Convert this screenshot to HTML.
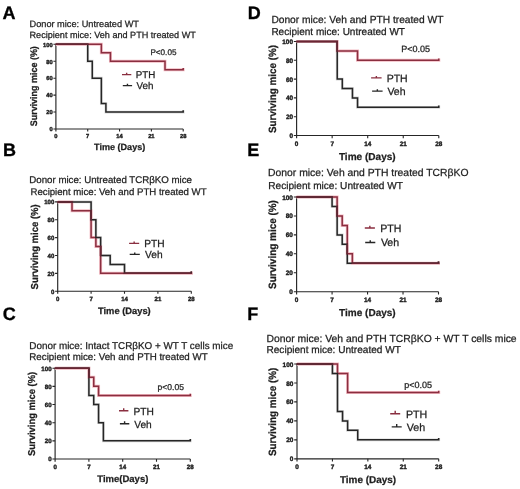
<!DOCTYPE html>
<html><head><meta charset="utf-8"><style>
html,body{margin:0;padding:0;background:#fff;}
svg{display:block;filter:blur(0.3px);}
text{font-family:"Liberation Sans", sans-serif;fill:#1e1e1e;stroke:#1e1e1e;stroke-width:0.25px;text-rendering:geometricPrecision;}
.tk{stroke-width:0.4px;}
.lt{fill:#000;stroke:#000;stroke-width:0.3px;}
</style></head><body>
<svg width="520" height="489" viewBox="0 0 520 489">
<rect width="520" height="489" fill="#fff"/>
<text x="2.50" y="18.60" font-size="18.00" font-weight="700" text-anchor="start" class="lt">A</text>
<text x="29.51" y="27.40" font-size="9.21" font-weight="400" text-anchor="start" >Donor mice: Untreated WT</text>
<text x="29.52" y="37.50" font-size="9.10" font-weight="400" text-anchor="start" >Recipient mice: Veh and PTH treated WT</text>
<path d="M55.90 44.30 V131.50 M53.40 129.00 H183.20" stroke="#262626" stroke-width="1.15" fill="none"/>
<path d="M53.40 112.06 H55.90 M53.40 95.12 H55.90 M53.40 78.18 H55.90 M53.40 61.24 H55.90 M53.40 44.30 H55.90 M87.72 129.00 V131.50 M119.55 129.00 V131.50 M151.38 129.00 V131.50 M183.20 129.00 V131.50" stroke="#262626" stroke-width="1.1" fill="none"/>
<text x="52.63" y="131.31" font-size="5.75" font-weight="700" text-anchor="end" class="tk">0</text>
<text x="52.63" y="114.37" font-size="5.75" font-weight="700" text-anchor="end" class="tk">20</text>
<text x="52.63" y="97.43" font-size="5.75" font-weight="700" text-anchor="end" class="tk">40</text>
<text x="52.63" y="80.49" font-size="5.75" font-weight="700" text-anchor="end" class="tk">60</text>
<text x="52.63" y="63.55" font-size="5.75" font-weight="700" text-anchor="end" class="tk">80</text>
<text x="52.63" y="46.61" font-size="5.75" font-weight="700" text-anchor="end" class="tk">100</text>
<text x="55.90" y="137.81" font-size="5.75" font-weight="700" text-anchor="middle" class="tk">0</text>
<text x="87.72" y="137.81" font-size="5.75" font-weight="700" text-anchor="middle" class="tk">7</text>
<text x="119.55" y="137.81" font-size="5.75" font-weight="700" text-anchor="middle" class="tk">14</text>
<text x="151.38" y="137.81" font-size="5.75" font-weight="700" text-anchor="middle" class="tk">21</text>
<text x="183.20" y="137.81" font-size="5.75" font-weight="700" text-anchor="middle" class="tk">28</text>
<text x="0" y="0" font-size="8.96" font-weight="700" transform="translate(36.90,126.27) rotate(-90) scale(1,1.06)">Surviving mice (%)</text>
<text x="94.11" y="150.30" font-size="9.05" font-weight="700" text-anchor="start" >Time (Days)</text>
<path d="M55.90 44.30 H87.72 V61.24 H92.27 V78.18 H101.36 V103.59 H105.91 V112.06 H183.20 v-1.8" stroke="#d8d8d8" stroke-width="2.8" fill="none"/>
<path d="M55.90 44.30 H101.36 V52.77 H110.46 V61.24 H165.01 V69.71 H183.20 v-1.8" stroke="#f4bcc4" stroke-width="3.0" fill="none"/>
<path d="M55.90 44.30 H101.36 V52.77 H110.46 V61.24 H165.01 V69.71 H183.20 v-1.8" stroke="#8a2f40" stroke-width="1.5" fill="none"/>
<path d="M55.90 44.30 H87.72 V61.24 H92.27 V78.18 H101.36 V103.59 H105.91 V112.06 H183.20 v-1.8" stroke="#262626" stroke-width="1.5" fill="none"/>
<path d="M55.15 44.30 H88.47" stroke="#6a2634" stroke-width="1.5" fill="none"/>
<path d="M122.00 74.60 H131.30 M126.65 74.60 v-1.80" stroke="#8a2f40" stroke-width="1.4" fill="none"/>
<text x="135.82" y="78.30" font-size="9.80" font-weight="400" text-anchor="start" >PTH</text>
<path d="M122.80 85.60 H132.10 M127.45 85.60 v-1.80" stroke="#262626" stroke-width="1.4" fill="none"/>
<text x="136.50" y="88.90" font-size="9.80" font-weight="400" text-anchor="start" >Veh</text>
<text x="150.45" y="55.00" font-size="8.14" font-weight="400" text-anchor="start" >P&lt;0.05</text>
<text x="2.90" y="155.75" font-size="18.00" font-weight="700" text-anchor="start" class="lt">B</text>
<text x="29.32" y="183.00" font-size="9.70" font-weight="400" text-anchor="start" >Donor mice: Untreated TCRβKO mice</text>
<text x="30.53" y="194.80" font-size="9.64" font-weight="400" text-anchor="start" >Recipient mice: Veh and PTH treated WT</text>
<path d="M57.70 201.90 V293.84 M55.06 291.20 H191.30" stroke="#262626" stroke-width="1.15" fill="none"/>
<path d="M55.06 273.34 H57.70 M55.06 255.48 H57.70 M55.06 237.62 H57.70 M55.06 219.76 H57.70 M55.06 201.90 H57.70 M91.10 291.20 V293.84 M124.50 291.20 V293.84 M157.90 291.20 V293.84 M191.30 291.20 V293.84" stroke="#262626" stroke-width="1.1" fill="none"/>
<text x="54.25" y="293.62" font-size="6.06" font-weight="700" text-anchor="end" class="tk">0</text>
<text x="54.25" y="275.76" font-size="6.06" font-weight="700" text-anchor="end" class="tk">20</text>
<text x="54.25" y="257.90" font-size="6.06" font-weight="700" text-anchor="end" class="tk">40</text>
<text x="54.25" y="240.04" font-size="6.06" font-weight="700" text-anchor="end" class="tk">60</text>
<text x="54.25" y="222.18" font-size="6.06" font-weight="700" text-anchor="end" class="tk">80</text>
<text x="54.25" y="204.32" font-size="6.06" font-weight="700" text-anchor="end" class="tk">100</text>
<text x="57.70" y="301.37" font-size="6.06" font-weight="700" text-anchor="middle" class="tk">0</text>
<text x="91.10" y="301.37" font-size="6.06" font-weight="700" text-anchor="middle" class="tk">7</text>
<text x="124.50" y="301.37" font-size="6.06" font-weight="700" text-anchor="middle" class="tk">14</text>
<text x="157.90" y="301.37" font-size="6.06" font-weight="700" text-anchor="middle" class="tk">21</text>
<text x="191.30" y="301.37" font-size="6.06" font-weight="700" text-anchor="middle" class="tk">28</text>
<text x="0" y="0" font-size="9.52" font-weight="700" transform="translate(38.00,289.39) rotate(-90) scale(1,1.06)">Surviving mice (%)</text>
<text x="98.01" y="314.30" font-size="9.34" font-weight="700" text-anchor="start" >Time (Days)</text>
<path d="M57.70 201.90 H91.10 V219.76 H95.87 V237.62 H100.64 V255.48 H110.19 V264.41 H124.50 V273.34 H191.30 v-1.8" stroke="#d8d8d8" stroke-width="2.8" fill="none"/>
<path d="M57.70 201.90 H72.01 V210.83 H91.10 V237.62 H95.87 V246.55 H100.64 V273.34 H191.30 v-1.8" stroke="#f4bcc4" stroke-width="3.0" fill="none"/>
<path d="M57.70 201.90 H72.01 V210.83 H91.10 V237.62 H95.87 V246.55 H100.64 V273.34 H191.30 v-1.8" stroke="#8a2f40" stroke-width="1.5" fill="none"/>
<path d="M57.70 201.90 H91.10 V219.76 H95.87 V237.62 H100.64 V255.48 H110.19 V264.41 H124.50 V273.34 H191.30 v-1.8" stroke="#262626" stroke-width="1.5" fill="none"/>
<path d="M56.95 201.90 H72.76 M123.75 273.34 H192.05 M91.10 210.08 V220.51 M100.64 245.80 V256.23" stroke="#6a2634" stroke-width="1.5" fill="none"/>
<path d="M129.10 243.40 H139.20 M134.15 243.40 v-1.80" stroke="#8a2f40" stroke-width="1.4" fill="none"/>
<text x="144.28" y="246.80" font-size="10.20" font-weight="400" text-anchor="start" >PTH</text>
<path d="M129.70 254.40 H139.80 M134.75 254.40 v-1.80" stroke="#262626" stroke-width="1.4" fill="none"/>
<text x="145.00" y="258.20" font-size="10.20" font-weight="400" text-anchor="start" >Veh</text>
<text x="2.80" y="319.80" font-size="18.00" font-weight="700" text-anchor="start" class="lt">C</text>
<text x="29.31" y="348.60" font-size="9.89" font-weight="400" text-anchor="start" >Donor mice: Intact TCRβKO + WT T cells mice</text>
<text x="29.32" y="359.80" font-size="9.76" font-weight="400" text-anchor="start" >Recipient mice: Veh and PTH treated WT</text>
<path d="M55.10 368.20 V461.68 M52.42 459.00 H190.30" stroke="#262626" stroke-width="1.15" fill="none"/>
<path d="M52.42 440.84 H55.10 M52.42 422.68 H55.10 M52.42 404.52 H55.10 M52.42 386.36 H55.10 M52.42 368.20 H55.10 M88.90 459.00 V461.68 M122.70 459.00 V461.68 M156.50 459.00 V461.68 M190.30 459.00 V461.68" stroke="#262626" stroke-width="1.1" fill="none"/>
<text x="51.59" y="461.46" font-size="6.16" font-weight="700" text-anchor="end" class="tk">0</text>
<text x="51.59" y="443.30" font-size="6.16" font-weight="700" text-anchor="end" class="tk">20</text>
<text x="51.59" y="425.14" font-size="6.16" font-weight="700" text-anchor="end" class="tk">40</text>
<text x="51.59" y="406.98" font-size="6.16" font-weight="700" text-anchor="end" class="tk">60</text>
<text x="51.59" y="388.82" font-size="6.16" font-weight="700" text-anchor="end" class="tk">80</text>
<text x="51.59" y="370.66" font-size="6.16" font-weight="700" text-anchor="end" class="tk">100</text>
<text x="55.10" y="468.96" font-size="6.16" font-weight="700" text-anchor="middle" class="tk">0</text>
<text x="88.90" y="468.96" font-size="6.16" font-weight="700" text-anchor="middle" class="tk">7</text>
<text x="122.70" y="468.96" font-size="6.16" font-weight="700" text-anchor="middle" class="tk">14</text>
<text x="156.50" y="468.96" font-size="6.16" font-weight="700" text-anchor="middle" class="tk">21</text>
<text x="190.30" y="468.96" font-size="6.16" font-weight="700" text-anchor="middle" class="tk">28</text>
<text x="0" y="0" font-size="9.41" font-weight="700" transform="translate(35.00,455.98) rotate(-90) scale(1,1.06)">Surviving mice (%)</text>
<text x="97.30" y="481.70" font-size="9.51" font-weight="700" text-anchor="start" >Time(Days)</text>
<path d="M55.10 368.20 H88.90 V395.44 H93.73 V404.52 H98.56 V422.68 H103.39 V440.84 H190.30 v-1.8" stroke="#d8d8d8" stroke-width="2.8" fill="none"/>
<path d="M55.10 368.20 H88.90 V377.28 H93.73 V386.36 H98.56 V395.44 H190.30 v-1.8" stroke="#f4bcc4" stroke-width="3.0" fill="none"/>
<path d="M55.10 368.20 H88.90 V377.28 H93.73 V386.36 H98.56 V395.44 H190.30 v-1.8" stroke="#8a2f40" stroke-width="1.5" fill="none"/>
<path d="M55.10 368.20 H88.90 V395.44 H93.73 V404.52 H98.56 V422.68 H103.39 V440.84 H190.30 v-1.8" stroke="#262626" stroke-width="1.5" fill="none"/>
<path d="M54.35 368.20 H89.65 M88.90 367.45 V378.03" stroke="#6a2634" stroke-width="1.5" fill="none"/>
<path d="M119.00 410.80 H128.40 M123.70 410.80 v-2.50" stroke="#8a2f40" stroke-width="1.4" fill="none"/>
<text x="133.48" y="414.90" font-size="10.20" font-weight="400" text-anchor="start" >PTH</text>
<path d="M119.90 423.70 H129.30 M124.60 423.70 v-2.50" stroke="#262626" stroke-width="1.4" fill="none"/>
<text x="134.20" y="427.80" font-size="10.20" font-weight="400" text-anchor="start" >Veh</text>
<text x="157.60" y="390.20" font-size="8.55" font-weight="400" text-anchor="start" >p&lt;0.05</text>
<text x="247.80" y="18.70" font-size="18.00" font-weight="700" text-anchor="start" class="lt">D</text>
<text x="271.38" y="23.00" font-size="10.22" font-weight="400" text-anchor="start" >Donor mice: Veh and PTH treated WT</text>
<text x="271.40" y="34.80" font-size="10.02" font-weight="400" text-anchor="start" >Recipient mice: Untreated WT</text>
<path d="M296.60 41.50 V138.27 M293.83 135.50 H438.80" stroke="#262626" stroke-width="1.15" fill="none"/>
<path d="M293.83 116.70 H296.60 M293.83 97.90 H296.60 M293.83 79.10 H296.60 M293.83 60.30 H296.60 M293.83 41.50 H296.60 M332.15 135.50 V138.27 M367.70 135.50 V138.27 M403.25 135.50 V138.27 M438.80 135.50 V138.27" stroke="#262626" stroke-width="1.1" fill="none"/>
<text x="292.97" y="138.03" font-size="6.38" font-weight="700" text-anchor="end" class="tk">0</text>
<text x="292.97" y="119.23" font-size="6.38" font-weight="700" text-anchor="end" class="tk">20</text>
<text x="292.97" y="100.43" font-size="6.38" font-weight="700" text-anchor="end" class="tk">40</text>
<text x="292.97" y="81.63" font-size="6.38" font-weight="700" text-anchor="end" class="tk">60</text>
<text x="292.97" y="62.83" font-size="6.38" font-weight="700" text-anchor="end" class="tk">80</text>
<text x="292.97" y="44.03" font-size="6.38" font-weight="700" text-anchor="end" class="tk">100</text>
<text x="296.60" y="146.13" font-size="6.38" font-weight="700" text-anchor="middle" class="tk">0</text>
<text x="332.15" y="146.13" font-size="6.38" font-weight="700" text-anchor="middle" class="tk">7</text>
<text x="367.70" y="146.13" font-size="6.38" font-weight="700" text-anchor="middle" class="tk">14</text>
<text x="403.25" y="146.13" font-size="6.38" font-weight="700" text-anchor="middle" class="tk">21</text>
<text x="438.80" y="146.13" font-size="6.38" font-weight="700" text-anchor="middle" class="tk">28</text>
<text x="0" y="0" font-size="9.84" font-weight="700" transform="translate(275.90,133.00) rotate(-90) scale(1,1.06)">Surviving mice (%)</text>
<text x="338.90" y="159.60" font-size="10.05" font-weight="700" text-anchor="start" >Time (Days)</text>
<path d="M296.60 41.50 H337.23 V79.10 H342.31 V88.50 H352.46 V97.90 H357.54 V107.30 H438.80 v-1.8" stroke="#d8d8d8" stroke-width="2.8" fill="none"/>
<path d="M296.60 41.50 H337.23 V50.90 H357.54 V60.30 H438.80 v-1.8" stroke="#f4bcc4" stroke-width="3.0" fill="none"/>
<path d="M296.60 41.50 H337.23 V50.90 H357.54 V60.30 H438.80 v-1.8" stroke="#8a2f40" stroke-width="1.5" fill="none"/>
<path d="M296.60 41.50 H337.23 V79.10 H342.31 V88.50 H352.46 V97.90 H357.54 V107.30 H438.80 v-1.8" stroke="#262626" stroke-width="1.5" fill="none"/>
<path d="M295.85 41.50 H337.98 M337.23 40.75 V51.65" stroke="#6a2634" stroke-width="1.5" fill="none"/>
<path d="M371.10 77.90 H381.60 M376.35 77.90 v-1.80" stroke="#8a2f40" stroke-width="1.4" fill="none"/>
<text x="386.66" y="82.00" font-size="10.50" font-weight="400" text-anchor="start" >PTH</text>
<path d="M372.10 91.10 H382.60 M377.35 91.10 v-1.80" stroke="#262626" stroke-width="1.4" fill="none"/>
<text x="387.39" y="94.50" font-size="10.50" font-weight="400" text-anchor="start" >Veh</text>
<text x="401.18" y="52.40" font-size="9.02" font-weight="400" text-anchor="start" >P&lt;0.05</text>
<text x="247.20" y="155.75" font-size="18.00" font-weight="700" text-anchor="start" class="lt">E</text>
<text x="268.07" y="176.20" font-size="10.36" font-weight="400" text-anchor="start" >Donor mice: Veh and PTH treated TCRβKO</text>
<text x="268.29" y="188.50" font-size="10.10" font-weight="400" text-anchor="start" >Recipient mice: Untreated WT</text>
<path d="M296.60 197.00 V294.50 M293.80 291.70 H438.50" stroke="#262626" stroke-width="1.15" fill="none"/>
<path d="M293.80 272.76 H296.60 M293.80 253.82 H296.60 M293.80 234.88 H296.60 M293.80 215.94 H296.60 M293.80 197.00 H296.60 M332.08 291.70 V294.50 M367.55 291.70 V294.50 M403.02 291.70 V294.50 M438.50 291.70 V294.50" stroke="#262626" stroke-width="1.1" fill="none"/>
<text x="292.94" y="294.25" font-size="6.43" font-weight="700" text-anchor="end" class="tk">0</text>
<text x="292.94" y="275.31" font-size="6.43" font-weight="700" text-anchor="end" class="tk">20</text>
<text x="292.94" y="256.37" font-size="6.43" font-weight="700" text-anchor="end" class="tk">40</text>
<text x="292.94" y="237.43" font-size="6.43" font-weight="700" text-anchor="end" class="tk">60</text>
<text x="292.94" y="218.49" font-size="6.43" font-weight="700" text-anchor="end" class="tk">80</text>
<text x="292.94" y="199.55" font-size="6.43" font-weight="700" text-anchor="end" class="tk">100</text>
<text x="296.60" y="302.05" font-size="6.43" font-weight="700" text-anchor="middle" class="tk">0</text>
<text x="332.08" y="302.05" font-size="6.43" font-weight="700" text-anchor="middle" class="tk">7</text>
<text x="367.55" y="302.05" font-size="6.43" font-weight="700" text-anchor="middle" class="tk">14</text>
<text x="403.02" y="302.05" font-size="6.43" font-weight="700" text-anchor="middle" class="tk">21</text>
<text x="438.50" y="302.05" font-size="6.43" font-weight="700" text-anchor="middle" class="tk">28</text>
<text x="0" y="0" font-size="9.95" font-weight="700" transform="translate(275.70,289.00) rotate(-90) scale(1,1.06)">Surviving mice (%)</text>
<text x="339.10" y="315.70" font-size="10.02" font-weight="700" text-anchor="start" >Time (Days)</text>
<path d="M296.60 197.00 H332.08 V206.47 H337.14 V234.88 H342.21 V244.35 H347.28 V263.29 H438.50 v-1.8" stroke="#d8d8d8" stroke-width="2.8" fill="none"/>
<path d="M296.60 197.00 H337.14 V215.94 H342.21 V225.41 H347.28 V253.82 H352.35 V263.29 H438.50 v-1.8" stroke="#f4bcc4" stroke-width="3.0" fill="none"/>
<path d="M296.60 197.00 H337.14 V215.94 H342.21 V225.41 H347.28 V253.82 H352.35 V263.29 H438.50 v-1.8" stroke="#8a2f40" stroke-width="1.5" fill="none"/>
<path d="M296.60 197.00 H332.08 V206.47 H337.14 V234.88 H342.21 V244.35 H347.28 V263.29 H438.50 v-1.8" stroke="#262626" stroke-width="1.5" fill="none"/>
<path d="M295.85 197.00 H332.83 M351.60 263.29 H439.25 M337.14 205.72 V216.69 M347.28 243.60 V254.57" stroke="#6a2634" stroke-width="1.5" fill="none"/>
<path d="M364.80 228.00 H374.90 M369.85 228.00 v-2.20" stroke="#8a2f40" stroke-width="1.4" fill="none"/>
<text x="380.15" y="231.60" font-size="10.60" font-weight="400" text-anchor="start" >PTH</text>
<path d="M365.20 242.50 H375.30 M370.25 242.50 v-2.20" stroke="#262626" stroke-width="1.4" fill="none"/>
<text x="380.89" y="245.70" font-size="10.60" font-weight="400" text-anchor="start" >Veh</text>
<text x="247.20" y="319.80" font-size="18.00" font-weight="700" text-anchor="start" class="lt">F</text>
<text x="266.47" y="341.50" font-size="10.37" font-weight="400" text-anchor="start" >Donor mice: Veh and PTH TCRβKO + WT T cells mice</text>
<text x="266.49" y="352.80" font-size="10.08" font-weight="400" text-anchor="start" >Recipient mice: Untreated WT</text>
<path d="M297.00 364.00 V461.60 M294.20 458.80 H438.70" stroke="#262626" stroke-width="1.15" fill="none"/>
<path d="M294.20 439.84 H297.00 M294.20 420.88 H297.00 M294.20 401.92 H297.00 M294.20 382.96 H297.00 M294.20 364.00 H297.00 M332.43 458.80 V461.60 M367.85 458.80 V461.60 M403.27 458.80 V461.60 M438.70 458.80 V461.60" stroke="#262626" stroke-width="1.1" fill="none"/>
<text x="293.34" y="461.35" font-size="6.44" font-weight="700" text-anchor="end" class="tk">0</text>
<text x="293.34" y="442.39" font-size="6.44" font-weight="700" text-anchor="end" class="tk">20</text>
<text x="293.34" y="423.43" font-size="6.44" font-weight="700" text-anchor="end" class="tk">40</text>
<text x="293.34" y="404.47" font-size="6.44" font-weight="700" text-anchor="end" class="tk">60</text>
<text x="293.34" y="385.51" font-size="6.44" font-weight="700" text-anchor="end" class="tk">80</text>
<text x="293.34" y="366.55" font-size="6.44" font-weight="700" text-anchor="end" class="tk">100</text>
<text x="297.00" y="469.05" font-size="6.44" font-weight="700" text-anchor="middle" class="tk">0</text>
<text x="332.43" y="469.05" font-size="6.44" font-weight="700" text-anchor="middle" class="tk">7</text>
<text x="367.85" y="469.05" font-size="6.44" font-weight="700" text-anchor="middle" class="tk">14</text>
<text x="403.27" y="469.05" font-size="6.44" font-weight="700" text-anchor="middle" class="tk">21</text>
<text x="438.70" y="469.05" font-size="6.44" font-weight="700" text-anchor="middle" class="tk">28</text>
<text x="0" y="0" font-size="9.89" font-weight="700" transform="translate(275.90,456.00) rotate(-90) scale(1,1.06)">Surviving mice (%)</text>
<text x="339.90" y="482.70" font-size="9.95" font-weight="700" text-anchor="start" >Time (Days)</text>
<path d="M297.00 364.00 H332.43 V373.48 H337.49 V411.40 H342.55 V420.88 H347.61 V430.36 H357.73 V439.84 H438.70 v-1.8" stroke="#d8d8d8" stroke-width="2.8" fill="none"/>
<path d="M297.00 364.00 H337.49 V373.48 H347.61 V392.44 H438.70 v-1.8" stroke="#f4bcc4" stroke-width="3.0" fill="none"/>
<path d="M297.00 364.00 H337.49 V373.48 H347.61 V392.44 H438.70 v-1.8" stroke="#8a2f40" stroke-width="1.5" fill="none"/>
<path d="M297.00 364.00 H332.43 V373.48 H337.49 V411.40 H342.55 V420.88 H347.61 V430.36 H357.73 V439.84 H438.70 v-1.8" stroke="#262626" stroke-width="1.5" fill="none"/>
<path d="M296.25 364.00 H333.18" stroke="#6a2634" stroke-width="1.5" fill="none"/>
<path d="M390.20 413.80 H400.20 M395.20 413.80 v-3.00" stroke="#8a2f40" stroke-width="1.4" fill="none"/>
<text x="405.94" y="417.80" font-size="10.70" font-weight="400" text-anchor="start" >PTH</text>
<path d="M391.70 426.90 H401.70 M396.70 426.90 v-3.00" stroke="#262626" stroke-width="1.4" fill="none"/>
<text x="406.69" y="430.60" font-size="10.70" font-weight="400" text-anchor="start" >Veh</text>
<text x="404.17" y="387.80" font-size="9.02" font-weight="400" text-anchor="start" >p&lt;0.05</text>
</svg>
</body></html>
